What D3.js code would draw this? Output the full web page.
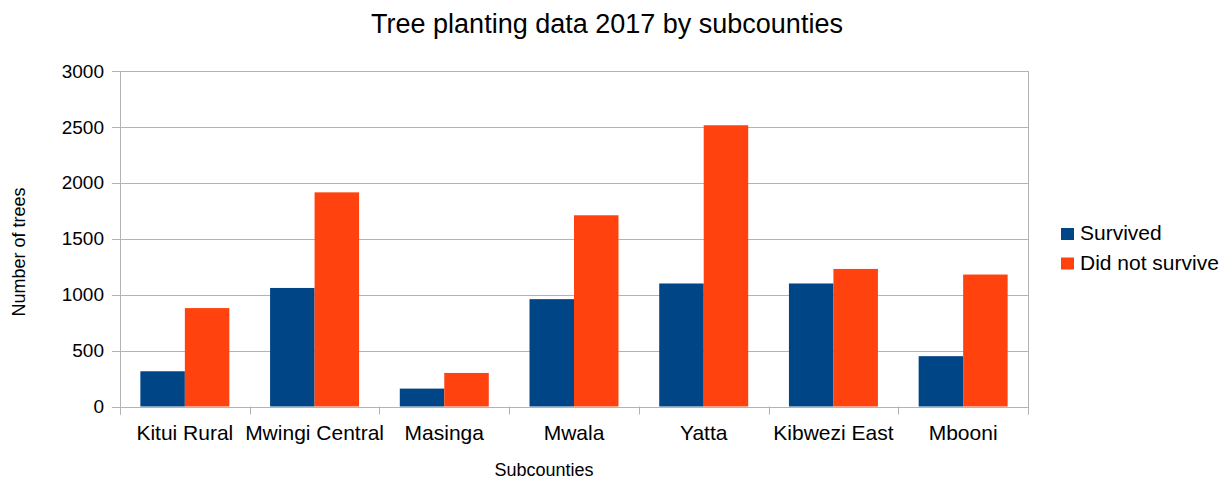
<!doctype html>
<html lang="en">
  <head>
    <meta charset="utf-8">
    <title>Tree planting data 2017 by subcounties</title>
    <style>
      body { margin: 0; background: #fff; }
      svg text { font-family: "Liberation Sans", Arial, sans-serif; fill: #000; }
    </style>
  </head>
  <body>
    <div id="chart"></div>

    <script src="https://d3js.org/d3.v7.min.js"></script>
    <script>
    // values
    var subcounties = ["Kitui Rural", "Mwingi Central", "Masinga", "Mwala", "Yatta", "Kibwezi East", "Mbooni"];
    var seriesNames = ["Survived", "Did not survive"];
    var survived = [315, 1060, 160, 960, 1100, 1100, 450];
    var didNotSurvive = [880, 1915, 300, 1710, 2515, 1230, 1180];
    var yTicks = [0, 500, 1000, 1500, 2000, 2500, 3000];

    var seriesValues = [survived, didNotSurvive];
    var colors = ["#004586", "#ff420e"];

    var svg = d3.select("#chart")
        .append("svg")
        .attr("width", 1228)
        .attr("height", 480);

    // plot area (note: "top" is reserved on window, so use other names)
    var plotLeft = 120, plotRight = 1028, plotTop = 71, plotBottom = 406.5;

    var x = d3.scaleBand()
        .domain(subcounties)
        .range([plotLeft, plotRight])
        .paddingInner(0.314)
        .paddingOuter(0.157);

    var xInner = d3.scaleBand()
        .domain(seriesNames)
        .range([0, x.bandwidth()]);

    var y = d3.scaleLinear()
        .domain([0, 3000])
        .range([plotBottom, plotTop]);

    var color = d3.scaleOrdinal().domain(seriesNames).range(colors);

    // grid lines
    svg.append("g")
      .selectAll("line")
      .data(yTicks)
      .join("line")
      .attr("x1", plotLeft - 8)
      .attr("x2", plotRight)
      .attr("y1", d => Math.round(y(d)) + 0.5)
      .attr("y2", d => Math.round(y(d)) + 0.5)
      .attr("stroke", "#b3b3b3")
      .attr("stroke-width", 1);

    // left and right borders of the plot
    [plotLeft, plotRight].forEach(function(px) {
      svg.append("line")
        .attr("x1", px + 0.5).attr("x2", px + 0.5)
        .attr("y1", plotTop).attr("y2", plotBottom + 8)
        .attr("stroke", "#b3b3b3");
    });

    // category boundary ticks
    svg.append("g")
      .selectAll("line")
      .data(d3.range(subcounties.length + 1))
      .join("line")
      .attr("x1", i => Math.round(plotLeft + i * x.step()) + 0.5)
      .attr("x2", i => Math.round(plotLeft + i * x.step()) + 0.5)
      .attr("y1", plotBottom)
      .attr("y2", plotBottom + 8)
      .attr("stroke", "#b3b3b3");

    // bars
    var rows = subcounties.map(function(name, i) {
      return { name: name, values: seriesNames.map(function(s, j) { return { series: s, value: seriesValues[j][i] }; }) };
    });

    svg.append("g")
      .selectAll("g")
      .data(rows)
      .join("g")
      .attr("transform", d => "translate(" + x(d.name) + ",0)")
      .selectAll("rect")
      .data(d => d.values)
      .join("rect")
      .attr("x", d => xInner(d.series))
      .attr("y", d => y(d.value))
      .attr("width", xInner.bandwidth())
      .attr("height", d => y(0) - y(d.value))
      .attr("fill", d => color(d.series));

    // y tick labels
    svg.append("g")
      .selectAll("text")
      .data(yTicks)
      .join("text")
      .attr("x", 104)
      .attr("y", d => y(d))
      .attr("dy", "0.35em")
      .attr("text-anchor", "end")
      .attr("font-size", "19px")
      .text(d => d);

    // category labels
    svg.append("g")
      .selectAll("text")
      .data(subcounties)
      .join("text")
      .attr("x", d => x(d) + x.bandwidth() / 2)
      .attr("y", 440)
      .attr("text-anchor", "middle")
      .attr("font-size", "21px")
      .text(d => d);

    // title and axis titles
    svg.append("text")
      .attr("x", 607)
      .attr("y", 33)
      .attr("text-anchor", "middle")
      .attr("font-size", "27px")
      .text("Tree planting data 2017 by subcounties");

    svg.append("text")
      .attr("x", 544)
      .attr("y", 476)
      .attr("text-anchor", "middle")
      .attr("font-size", "18px")
      .text("Subcounties");

    svg.append("text")
      .attr("transform", "translate(25,252) rotate(-90)")
      .attr("text-anchor", "middle")
      .attr("font-size", "18px")
      .text("Number of trees");

    // legend
    var legend = svg.append("g")
      .attr("transform", "translate(1061, 228)");

    legend.selectAll("rect")
      .data(seriesNames)
      .join("rect")
      .attr("x", 0)
      .attr("y", (d, i) => i * 29.5)
      .attr("width", 13)
      .attr("height", 12)
      .attr("fill", d => color(d));

    legend.selectAll("text")
      .data(seriesNames)
      .join("text")
      .attr("x", 19)
      .attr("y", (d, i) => i * 29.5 + 12)
      .attr("font-size", "21px")
      .text(d => d);
    </script>
  </body>
</html>
